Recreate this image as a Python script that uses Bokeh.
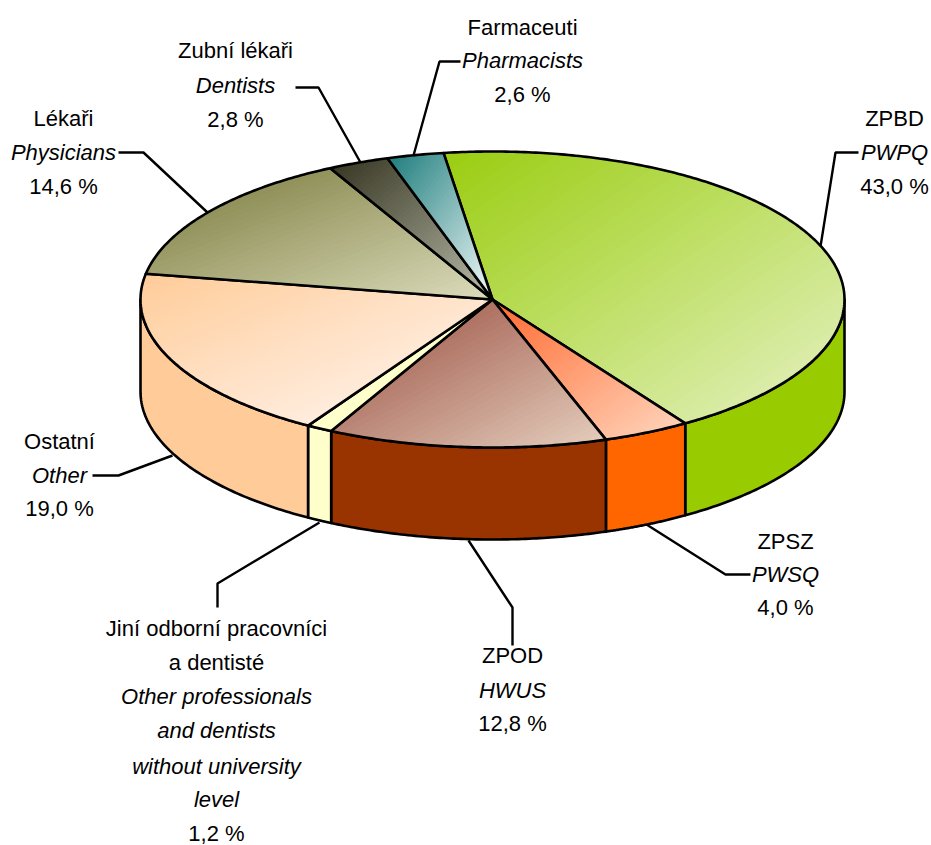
import numpy as np
from bokeh.plotting import figure
from bokeh.models import Range1d
from bokeh.core.properties import value
from bokeh.embed import file_html
from bokeh.resources import INLINE

# ---- data (clockwise from the start angle) ----
categories = ["ZPBD", "ZPSZ", "ZPOD", "Jiní", "Ostatní", "Lékaři", "Zubní", "Farmaceuti"]
shares = [43.0, 4.0, 12.8, 1.2, 19.0, 14.6, 2.8, 2.6]
side_colors = ["#99CC00", "#FF6600", "#993300", "#FFFFCC", "#FFCC99", "#808040", "#333322", "#1F7F7F"]
grad_start = ["#9ACD10", "#FF6A30", "#96483A", "#FFFFCC", "#FFCC99", "#78783A", "#333320", "#1C7C7C"]
grad_end = ["#E6F2C4", "#FFD8C0", "#E5CFBE", "#FFFFCC", "#FFF8F6", "#DCDCBC", "#BBBBAA", "#F4FAFA"]

# label blocks: lines, italic flags, centre x, centre y of each line
label_lines = [
    (["Farmaceuti", "Pharmacists", "2,6 %"], [0, 1, 0], 522, [27, 60, 94]),
    (["Zubní lékaři", "Dentists", "2,8 %"], [0, 1, 0], 235, [50, 85, 119]),
    (["Lékaři", "Physicians", "14,6 %"], [0, 1, 0], 63, [118, 152, 186]),
    (["ZPBD", "PWPQ", "43,0 %"], [0, 1, 0], 894, [118, 152, 186]),
    (["Ostatní", "Other", "19,0 %"], [0, 1, 0], 59, [441, 475, 508]),
    (["ZPSZ", "PWSQ", "4,0 %"], [0, 1, 0], 785, [541, 574, 607]),
    (["ZPOD", "HWUS", "12,8 %"], [0, 1, 0], 512, [655, 690, 723]),
    (["Jiní odborní pracovníci", "a dentisté", "Other professionals", "and dentists",
      "without university", "level", "1,2 %"], [0, 0, 1, 1, 1, 1, 0], 216,
     [628, 662, 696, 730, 766, 799, 833]),
]
leaders = [
    ([118, 143, 207], [152, 152, 212]),
    ([295, 318, 360], [87, 87, 162]),
    ([460, 439, 413], [61, 61, 155]),
    ([858, 835, 820], [152, 152, 246]),
    ([750, 725, 646], [574, 574, 524]),
    ([512, 512, 468], [645, 607, 540]),
    ([217, 217, 319], [607, 583, 522]),
    ([92, 118, 172], [475, 475, 455]),
]

# ---- geometry ----
CX, CY, RX, RY, DEPTH = 492.0, 299.0, 352.0, 148.0, 92.0
START = -8.0
FONT = "Liberation Sans"
FS = "22px"
LW = 2.6
LEADER_LW = 2.4
BANDS = 48


def ell(a):
    a = np.radians(a)
    return CX + RX * np.sin(a), CY - RY * np.cos(a)


def hex2rgb(c):
    return np.array([int(c[i:i + 2], 16) for i in (1, 3, 5)], float)


def rgb2hex(c):
    return "#%02x%02x%02x" % tuple(int(round(v)) for v in c)


def clip(poly, f, level):
    out = []
    n = len(poly)
    for i in range(n):
        a, b = poly[i], poly[(i + 1) % n]
        fa, fb = f(a) - level, f(b) - level
        if fa >= 0:
            out.append(a)
        if (fa >= 0) != (fb >= 0):
            t = fa / (fa - fb)
            out.append((a[0] + t * (b[0] - a[0]), a[1] + t * (b[1] - a[1])))
    return out


p = figure(width=931, height=845, output_backend="svg", toolbar_location=None,
           x_range=Range1d(0, 931), y_range=Range1d(845, 0), min_border=0,
           outline_line_color=None, background_fill_color="white")
p.axis.visible = False
p.grid.visible = False

for xs, ys in leaders:
    p.line(xs, ys, line_color="black", line_width=LEADER_LW)

edges = START + np.cumsum([0] + shares) * 3.6

# sides (only the front half, 90..270 degrees)
for i in range(len(shares)):
    a0, a1 = max(edges[i], 90.0), min(edges[i + 1], 270.0)
    if a1 <= a0:
        continue
    aa = np.linspace(a0, a1, 80)
    x, y = ell(aa)
    xs = np.r_[x, x[::-1]]
    ys = np.r_[y, y[::-1] + DEPTH]
    p.patch(xs, ys, fill_color=side_colors[i], line_color="black", line_width=LW, line_join="round")

# tops
for i in range(len(shares)):
    aa = np.linspace(edges[i], edges[i + 1], max(int(shares[i] * 6), 8))
    x, y = ell(aa)
    xs = np.r_[CX, x]
    ys = np.r_[CY, y]
    x0, x1, y0, y1 = xs.min(), xs.max(), ys.min(), ys.max()
    f = lambda q: 0.5 * ((q[0] - x0) / (x1 - x0) + (q[1] - y0) / (y1 - y0))
    c0, c1 = hex2rgb(grad_start[i]), hex2rgb(grad_end[i])
    poly = list(zip(xs, ys))
    bx, by, bc = [], [], []
    for k in range(BANDS):
        # each band also covers all later ones, so no seams show
        part = clip(poly, f, k / BANDS)
        if len(part) < 3:
            continue
        bx.append([q[0] for q in part])
        by.append([q[1] for q in part])
        bc.append(rgb2hex(c0 + (c1 - c0) * (k + 0.5) / BANDS))
    p.patches(bx, by, fill_color=bc, line_color=None)
    p.patch(xs, ys, fill_color=None, line_color="black", line_width=LW, line_join="round")

# labels
for lines, ital, cx, ys in label_lines:
    for t, it, yy in zip(lines, ital, ys):
        p.text([cx], [yy], text=[t], text_font=value(FONT), text_font_size=FS,
               text_font_style="italic" if it else "normal", text_align="center",
               text_baseline="middle", text_color="black")

open("out.html", "w").write(file_html(p, INLINE))
